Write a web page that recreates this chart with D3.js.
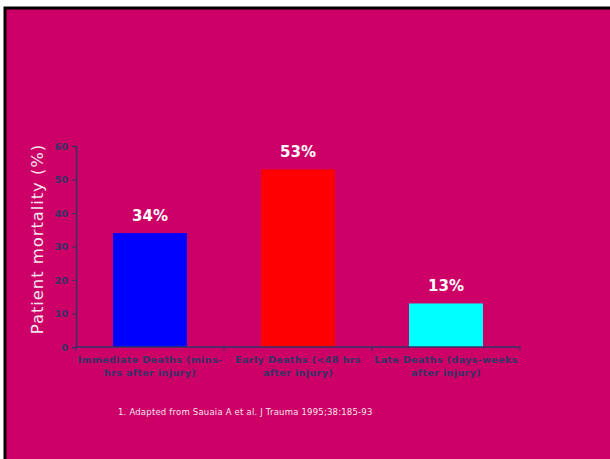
<!DOCTYPE html>
<html>
<head>
<meta charset="utf-8">
<script src="https://cdn.jsdelivr.net/npm/d3@7"></script>
<style>
  body { margin: 0; background: #fff; }
  svg { display: block; font-family: "DejaVu Sans", Verdana, sans-serif; }
</style>
</head>
<body>
<div id="chart"></div>
<script>
const categories = [
    ["Immediate Deaths (mins-", "hrs after injury)"],
    ["Early Deaths (<48 hrs", "after injury)"],
    ["Late Deaths (days-weeks", "after injury)"]
];
const mortality = [34, 53, 13];
const barColors = ["#0000ff", "#ff0000", "#00ffff"];
const yTicks = [0, 10, 20, 30, 40, 50, 60];

const width = 610, height = 459;
const axisColor = "#333366";

const svg = d3.select("#chart")
    .append("svg")
    .attr("width", width)
    .attr("height", height);

// slide frame
svg.append("rect")
    .attr("x", 5).attr("y", 8)
    .attr("width", width).attr("height", height)
    .attr("fill", "#cc0066")
    .attr("stroke", "#000")
    .attr("stroke-width", 3);

const x = d3.scaleBand()
    .domain(d3.range(categories.length))
    .range([76, 520])
    .paddingInner(0.5)
    .paddingOuter(0.25);

const y = d3.scaleLinear()
    .domain([0, 60])
    .range([347, 146]);

// bars
svg.selectAll(".bar")
    .data(mortality)
    .join("rect")
    .attr("class", "bar")
    .attr("x", (d, i) => x(i))
    .attr("y", d => y(d))
    .attr("width", x.bandwidth())
    .attr("height", d => y(0) - y(d))
    .attr("fill", (d, i) => barColors[i]);

// value labels
svg.selectAll(".val")
    .data(mortality)
    .join("text")
    .attr("class", "val")
    .attr("x", (d, i) => x(i) + x.bandwidth() / 2)
    .attr("y", d => y(d) - 12)
    .attr("text-anchor", "middle")
    .attr("fill", "#fff")
    .attr("font-weight", "bold")
    .attr("font-size", 15)
    .text(d => d + "%");

// y axis
const yAxis = svg.append("g")
    .attr("transform", "translate(76,0)")
    .call(d3.axisLeft(y).tickValues(yTicks).tickSize(4).tickPadding(4));
yAxis.select(".domain").attr("stroke", axisColor).attr("stroke-width", 1.5);
yAxis.selectAll(".tick line").attr("stroke", axisColor);
yAxis.selectAll(".tick text")
    .attr("fill", axisColor)
    .attr("font-weight", "bold")
    .attr("font-size", 9.5)
    .attr("font-family", "DejaVu Sans, Verdana, sans-serif");

// x axis with ticks on category boundaries
const xAxisG = svg.append("g").attr("transform", `translate(0,${y(0)})`);
xAxisG.append("line")
    .attr("x1", 76).attr("x2", 520)
    .attr("stroke", axisColor).attr("stroke-width", 1.5);
const bounds = d3.range(categories.length + 1).map(i => 76 + i * (520 - 76) / categories.length);
xAxisG.selectAll(".xt")
    .data(bounds)
    .join("line")
    .attr("class", "xt")
    .attr("x1", d => d).attr("x2", d => d)
    .attr("y1", 0).attr("y2", 4)
    .attr("stroke", axisColor);

// category labels
svg.selectAll(".cat")
    .data(categories)
    .join("text")
    .attr("class", "cat")
    .attr("x", (d, i) => x(i) + x.bandwidth() / 2)
    .attr("y", 363)
    .attr("text-anchor", "middle")
    .attr("fill", axisColor)
    .attr("font-weight", "bold")
    .attr("font-size", 9.5)
    .attr("letter-spacing", 0.4)
    .selectAll("tspan")
    .data(d => d)
    .join("tspan")
    .attr("x", function () { return d3.select(this.parentNode).attr("x"); })
    .attr("dy", (d, i) => i === 0 ? 0 : 12.5)
    .text(d => d);

// y title
svg.append("text")
    .attr("transform", "translate(43,239) rotate(-90)")
    .attr("text-anchor", "middle")
    .attr("fill", "#f4e4f0")
    .attr("font-size", 16.5)
    .attr("letter-spacing", 0.9)
    .text("Patient mortality (%)");

// footnote
svg.append("text")
    .attr("x", 118)
    .attr("y", 415)
    .attr("fill", "#f4e4f0")
    .attr("font-size", 8.5)
    .attr("letter-spacing", 0.2)
    .text("1. Adapted from Sauaia A et al. J Trauma 1995;38:185-93");
</script>
</body>
</html>
